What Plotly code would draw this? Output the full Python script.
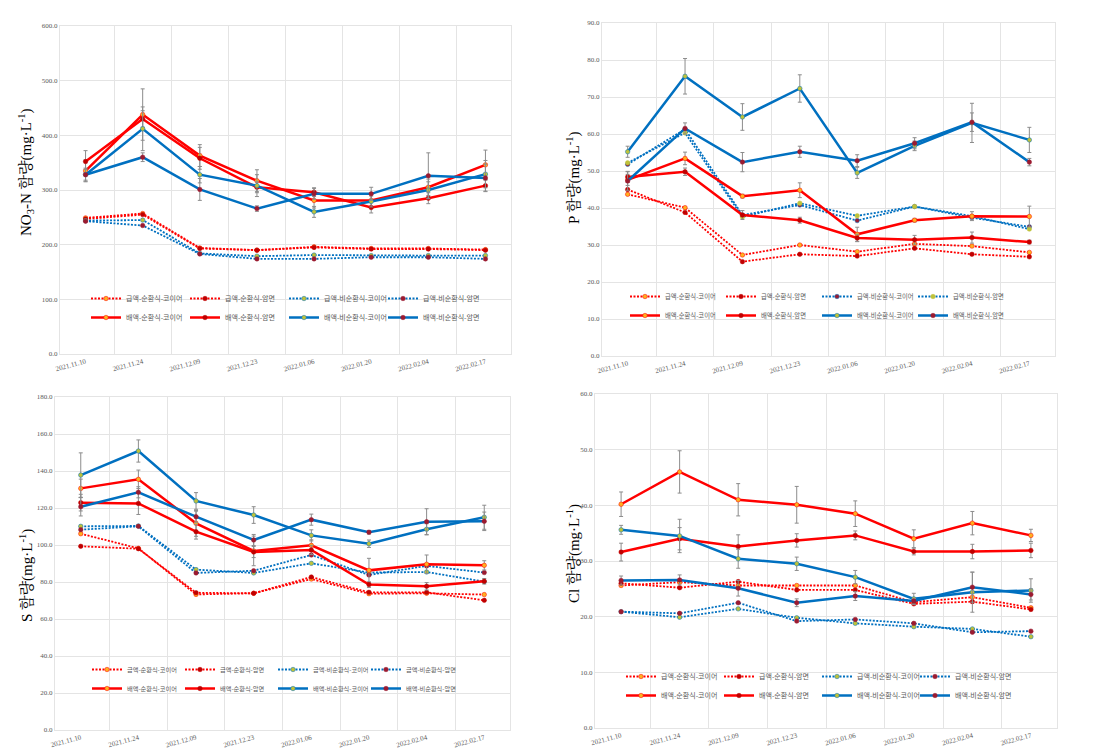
import plotly.graph_objects as go

dates = ["2021.11.10", "2021.11.24", "2021.12.09", "2021.12.23",
         "2022.01.06", "2022.01.20", "2022.02.04", "2022.02.17"]

series_names = ["급액-순환식-코이어", "급액-순환식-암면", "급액-비순환식-코이어", "급액-비순환식-암면",
                "배액-순환식-코이어", "배액-순환식-암면", "배액-비순환식-코이어", "배액-비순환식-암면"]

# ---- NO3-N ----
no3_s_cc = [249, 257, 194, 190, 196, 193, 193, 191]
no3_s_cr = [247, 255, 193, 190, 195, 192, 192, 190]
no3_s_nc = [244, 245, 184, 179, 181, 180, 180, 180]
no3_s_nr = [243, 235, 183, 174, 174, 177, 177, 174]
no3_d_cc = [335, 438, 363, 317, 281, 281, 305, 346]
no3_d_cr = [352, 430, 358, 305, 296, 268, 285, 308]
no3_d_nc = [328, 412, 328, 308, 260, 279, 300, 329]
no3_d_nr = [328, 360, 301, 266, 293, 293, 326, 322]
no3_e_cc = [20, 47, 20, 20, 14, 12, 15, 27]
no3_e_cr = [20, 15, 20, 10, 8, 10, 10, 10]
no3_e_nc = [10, 40, 15, 20, 10, 10, 15, 25]
no3_e_nr = [12, 8, 20, 5, 10, 12, 42, 25]

# ---- P ----
p_s_cc = [43.7, 40.1, 27.3, 30.0, 28.2, 30.3, 29.7, 28.0]
p_s_cr = [45.0, 38.8, 25.5, 27.5, 27.0, 29.1, 27.5, 26.8]
p_s_nc = [51.8, 61.3, 38.1, 40.8, 36.6, 40.4, 37.4, 34.9]
p_s_nr = [52.2, 60.3, 37.6, 41.3, 37.9, 40.4, 37.8, 34.3]
p_d_cc = [47.6, 53.4, 43.2, 44.8, 32.9, 36.7, 37.8, 37.7]
p_d_cr = [48.4, 49.8, 38.1, 36.7, 31.9, 31.4, 32.0, 30.8]
p_d_nc = [55.2, 75.6, 64.6, 72.3, 49.5, 56.8, 63.0, 58.4]
p_d_nr = [47.3, 61.5, 52.4, 55.2, 52.8, 57.5, 63.2, 52.4]
p_e_cc = [1.5, 1.7, 0.5, 2.0, 1.9, 0.5, 1.2, 2.8]
p_e_cr = [1.5, 1.0, 1.2, 0.8, 1.0, 1.2, 1.5, 0.5]
p_e_nc = [1.5, 4.8, 3.6, 3.7, 1.5, 1.3, 5.3, 3.4]
p_e_nr = [2.5, 1.5, 2.6, 1.5, 1.6, 1.5, 2.5, 1.0]

# ---- S ----
s_s_cc = [106.1, 98.2, 73.3, 73.9, 81.6, 73.7, 73.9, 73.2]
s_s_cr = [99.3, 98.0, 74.2, 73.9, 82.7, 74.4, 74.4, 70.1]
s_s_nc = [110.1, 110.3, 86.7, 84.9, 90.1, 85.1, 85.4, 80.2]
s_s_nr = [108.3, 110.1, 84.9, 86.1, 94.6, 83.8, 88.7, 85.1]
s_d_cc = [130.6, 135.5, 111.7, 96.8, 99.8, 86.3, 89.6, 89.0]
s_d_cr = [122.9, 122.5, 107.2, 96.2, 97.3, 78.6, 77.7, 80.4]
s_d_nc = [137.8, 150.8, 123.8, 116.2, 105.2, 100.7, 108.5, 115.0]
s_d_nr = [120.7, 128.5, 115.3, 102.7, 113.7, 106.9, 112.6, 112.8]
s_e_cc = [5.0, 5.0, 7.0, 8.0, 3.0, 6.5, 5.0, 2.5]
s_e_cr = [4.5, 6.0, 4.0, 3.0, 2.5, 1.5, 2.0, 1.5]
s_e_nc = [12.0, 6.0, 4.5, 4.5, 3.0, 2.0, 3.0, 6.5]
s_e_nr = [5.0, 3.0, 3.0, 3.0, 3.0, 1.0, 7.0, 5.0]

# ---- Cl ----
cl_s_cc = [25.6, 26.2, 25.6, 25.6, 25.6, 22.6, 23.5, 21.6]
cl_s_cr = [26.0, 25.2, 26.3, 24.8, 24.8, 22.3, 22.7, 21.3]
cl_s_nc = [20.9, 19.9, 21.4, 19.8, 18.8, 18.2, 17.8, 16.4]
cl_s_nr = [20.9, 20.6, 22.5, 19.2, 19.5, 18.8, 17.2, 17.4]
cl_d_cc = [40.2, 46.0, 41.0, 40.1, 38.5, 34.0, 36.8, 34.6]
cl_d_cr = [31.6, 34.0, 32.6, 33.7, 34.6, 31.7, 31.7, 31.9]
cl_d_nc = [35.6, 34.5, 30.4, 29.5, 27.1, 23.2, 24.4, 24.7]
cl_d_nr = [26.5, 26.6, 25.1, 22.5, 23.7, 22.8, 25.3, 24.0]
cl_e_cc = [2.2, 3.8, 2.9, 3.3, 2.3, 1.6, 2.1, 1.1]
cl_e_cr = [1.6, 2.0, 2.1, 1.2, 0.8, 0.6, 1.3, 1.3]
cl_e_nc = [0.8, 3.0, 1.7, 1.2, 1.2, 1.0, 3.6, 2.1]
cl_e_nr = [0.8, 0.9, 1.4, 0.7, 0.8, 0.5, 2.7, 1.0]

RED = "#FF0000"
BLUE = "#0070C0"
ORANGE = "#FFB020"
MAROON = "#9B1B30"
DRED = "#C00000"
OLIVE = "#BFC23A"

panels = [
    dict(vals=[no3_s_cc, no3_s_cr, no3_s_nc, no3_s_nr, no3_d_cc, no3_d_cr, no3_d_nc, no3_d_nr],
         errs=[no3_e_cc, no3_e_cr, no3_e_nc, no3_e_nr],
         yr=[0, 600], dt=100,
         title="NO<sub>3</sub>-N 함량(mg·L<sup>-1</sup>)",
         xd=[52, 503], yd=[18, 346], tpos=(18, 164),
         leg=(78, 276), ew=54, fs=7,
         mk=[ORANGE, DRED, OLIVE, MAROON, ORANGE, DRED, OLIVE, MAROON]),
    dict(vals=[p_s_cc, p_s_cr, p_s_nc, p_s_nr, p_d_cc, p_d_cr, p_d_nc, p_d_nr],
         errs=[p_e_cc, p_e_cr, p_e_nc, p_e_nr],
         yr=[0, 90], dt=10,
         title="P 함량(mg·L<sup>-1</sup>)",
         xd=[594, 1047], yd=[15, 348], tpos=(565, 170),
         leg=(617, 274), ew=51, fs=6.3,
         mk=[ORANGE, DRED, MAROON, OLIVE, ORANGE, DRED, OLIVE, MAROON]),
    dict(vals=[s_s_cc, s_s_cr, s_s_nc, s_s_nr, s_d_cc, s_d_cr, s_d_nc, s_d_nr],
         errs=[s_e_cc, s_e_cr, s_e_nc, s_e_nr],
         yr=[0, 180], dt=20,
         title="S 함량(mg·L<sup>-1</sup>)",
         xd=[47, 502], yd=[389, 722], tpos=(18, 568),
         leg=(79, 647), ew=48, fs=6.2,
         mk=[ORANGE, DRED, OLIVE, MAROON, ORANGE, DRED, OLIVE, MAROON]),
    dict(vals=[cl_s_cc, cl_s_cr, cl_s_nc, cl_s_nr, cl_d_cc, cl_d_cr, cl_d_nc, cl_d_nr],
         errs=[cl_e_cc, cl_e_cr, cl_e_nc, cl_e_nr],
         yr=[0, 60], dt=10,
         title="Cl 함량(mg·L<sup>-1</sup>)",
         xd=[587, 1049], yd=[386, 720], tpos=(565, 546),
         leg=(613, 654), ew=53, fs=7,
         mk=[ORANGE, DRED, OLIVE, MAROON, ORANGE, DRED, OLIVE, MAROON]),
]

W, H = 1094, 753
line_colors = [RED, RED, BLUE, BLUE, RED, RED, BLUE, BLUE]
groups = ["순환식-코이어", "순환식-암면", "비순환식-코이어", "비순환식-암면"] * 2

fig = go.Figure()
layout = dict(width=W, height=H, margin=dict(l=0, r=0, t=0, b=0),
              paper_bgcolor="white", plot_bgcolor="white", showlegend=True,
              annotations=[])

TICKFONT = dict(family="Liberation Serif, Noto Sans CJK KR", size=7, color="#595959")

for i, p in enumerate(panels):
    k = "" if i == 0 else str(i + 1)
    xa, ya = "x" + k, "y" + k
    legname = "legend" + k
    for j in range(8):
        solid = j >= 4
        err = None
        if solid:
            err = dict(type="data", array=p["errs"][j - 4], visible=True,
                       color="#8C8C8C", thickness=1.0, width=2)
        lastcol = (j % 4 == 3)
        fig.add_trace(go.Scatter(
            x=dates, y=p["vals"][j], name=series_names[j], mode="lines+markers",
            xaxis=xa, yaxis=ya, legend=legname,
            legendgroup=f"p{i}-{groups[j]}",
            legendwidth=(70 if lastcol else p["ew"]),
            line=dict(color=line_colors[j], width=2.5 if solid else 1.8,
                      dash="solid" if solid else "2px,1.5px"),
            marker=dict(color=p["mk"][j], size=4.5,
                        line=dict(color=line_colors[j] if j % 2 == 0 else p["mk"][j], width=0.5)),
            error_y=err,
        ))
    layout["xaxis" + k] = dict(
        domain=[p["xd"][0] / W, p["xd"][1] / W], anchor=ya, type="category",
        tickson="boundaries", showgrid=True, gridcolor="#E4E4E4", gridwidth=1,
        showline=True, linecolor="#E4E4E4", mirror=True, ticks="",
        tickangle=-15, tickfont=TICKFONT, automargin=False, fixedrange=True)
    layout["yaxis" + k] = dict(
        domain=[1 - p["yd"][1] / H, 1 - p["yd"][0] / H], anchor=xa,
        range=p["yr"], dtick=p["dt"], tickformat=".1f",
        showgrid=True, gridcolor="#E4E4E4", gridwidth=1, zeroline=False,
        showline=True, linecolor="#E4E4E4", mirror=True, ticks="",
        tickfont=TICKFONT, automargin=False, fixedrange=True)
    layout[legname] = dict(
        orientation="h", traceorder="grouped", x=p["leg"][0] / W, y=1 - p["leg"][1] / H,
        xanchor="left", yanchor="top", bgcolor="rgba(0,0,0,0)",
        font=dict(family="Noto Sans CJK KR", size=p["fs"], color="#595959"),
        itemwidth=30, tracegroupgap=0)
    layout["annotations"].append(dict(
        text=p["title"], xref="paper", yref="paper",
        x=p["tpos"][0] / W, y=1 - p["tpos"][1] / H, showarrow=False,
        textangle=-90, xanchor="center", yanchor="middle",
        font=dict(family="Liberation Serif, Noto Serif CJK KR, Noto Sans CJK KR", size=15, color="#000000")))

fig.update_layout(**layout)
fig.write_html("out.html")
